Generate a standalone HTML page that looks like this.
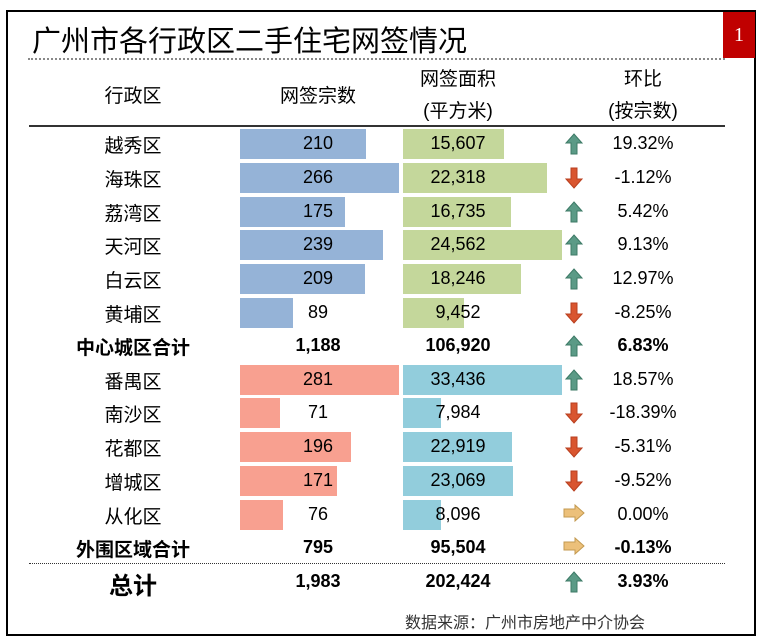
<!DOCTYPE html>
<html><head><meta charset="utf-8"><style>
body{margin:0;background:#fff;width:764px;height:641px;position:relative;overflow:hidden;font-family:"Liberation Sans","Noto Sans CJK SC",sans-serif;}
.a{position:absolute;white-space:nowrap;}
.c{transform:translateX(-50%);}
.t{font-size:18px;color:#000;}
.k{font-size:19px;}
.b{font-weight:bold;}
.bar{position:absolute;height:30px;}
</style></head><body>
<div class="a" style="left:6px;top:10px;width:746px;height:622px;border:2px solid #000;"></div>
<div class="a" style="left:723px;top:12px;width:32px;height:46px;background:#c00000;color:#fff;font-family:'Liberation Serif',serif;font-size:20px;text-align:center;line-height:46px;">1</div>
<div class="a" style="left:32px;top:18px;font-size:29px;">广州市各行政区二手住宅网签情况</div>
<div class="a" style="left:28px;top:58px;width:697px;border-top:2px dotted #888;"></div>
<div class="a" style="left:29px;top:125px;width:696px;border-top:2px solid #333;"></div>
<div class="a" style="left:29px;top:563px;width:696px;border-top:1px dotted #333;"></div>
<div class="a c t k" style="left:133px;top:81px;">行政区</div>
<div class="a c t k" style="left:318px;top:81px;">网签宗数</div>
<div class="a c t k" style="left:458px;top:64px;">网签面积</div>
<div class="a c t k" style="left:458px;top:96px;">(平方米)</div>
<div class="a c t k" style="left:643px;top:64px;">环比</div>
<div class="a c t k" style="left:643px;top:96px;">(按宗数)</div>
<div id="rows"></div>
<div class="a" style="left:405px;top:609px;font-size:16px;color:#333;">数据来源：广州市房地产中介协会</div>
<script>
var d=[["越秀区",210,15607,"u","19.32%",0],["海珠区",266,22318,"d","-1.12%",0],["荔湾区",175,16735,"u","5.42%",0],["天河区",239,24562,"u","9.13%",0],["白云区",209,18246,"u","12.97%",0],["黄埔区",89,9452,"d","-8.25%",0],["中心城区合计",1188,106920,"u","6.83%",2],["番禺区",281,33436,"u","18.57%",1],["南沙区",71,7984,"d","-18.39%",1],["花都区",196,22919,"d","-5.31%",1],["增城区",171,23069,"d","-9.52%",1],["从化区",76,8096,"r","0.00%",1],["外围区域合计",795,95504,"r","-0.13%",2],["总计",1983,202424,"u","3.93%",3]];
var h="";
var ys=[144,178,212,245,279,313,346,380,413,447,481,515,548,582];
function fmt(n){return n.toString().replace(/\B(?=(\d{3})+(?!\d))/g,",");}
var arr={u:'<svg width="18" height="22" viewBox="0 0 18 22"><path d="M9 1 L17 10 L12 10 L12 21 L6 21 L6 10 L1 10Z" fill="#5b9a86" stroke="#3d7a66"/></svg>',
d:'<svg width="18" height="22" viewBox="0 0 18 22"><path d="M9 21 L17 12 L12 12 L12 1 L6 1 L6 12 L1 12Z" fill="#d9552f" stroke="#b83f1f"/></svg>',
r:'<svg width="22" height="18" viewBox="0 0 22 18"><path d="M21 9 L12 1 L12 5 L1 5 L1 13 L12 13 L12 17Z" fill="#ecc07a" stroke="#c39a50"/></svg>'};
d.forEach(function(r,i){var y=ys[i],g=r[5];
if(g<2){var c1=g?"#f8a090":"#95b3d7",c2=g?"#92cddc":"#c4d79b";var s1=g?159/281:159/266,s2=g?159/33436:159/24562;
h+='<div class="bar" style="left:240px;top:'+(y-15)+'px;width:'+(r[1]*s1)+'px;background:'+c1+'"></div>';
h+='<div class="bar" style="left:403px;top:'+(y-15)+'px;width:'+(r[2]*s2)+'px;background:'+c2+'"></div>';}
var bold=g>=2?" b":"",fs=g==3?"24px":"19px";
h+='<div class="a c t'+bold+'" style="left:133px;top:'+(y-13-(g==3?3:0))+'px;font-size:'+fs+'">'+r[0]+'</div>';
h+='<div class="a c t'+bold+'" style="left:318px;top:'+(y-11)+'px">'+fmt(r[1])+'</div>';
h+='<div class="a c t'+bold+'" style="left:458px;top:'+(y-11)+'px">'+fmt(r[2])+'</div>';
h+='<div class="a c" style="left:574px;top:'+(y-11)+'px;line-height:0">'+arr[r[3]]+'</div>';
h+='<div class="a c t'+bold+'" style="left:643px;top:'+(y-11)+'px">'+r[4]+'</div>';});
document.getElementById("rows").innerHTML=h;
</script>
</body></html>
